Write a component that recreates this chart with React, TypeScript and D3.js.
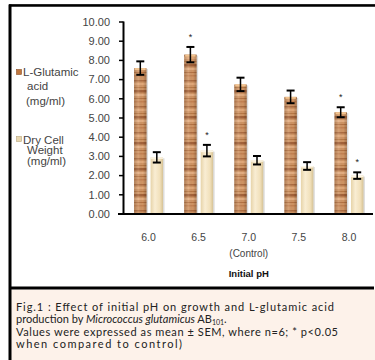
import React from 'react';
import * as d3 from 'd3';

// pH levels on the x axis
const categories = ['6.0', '6.5', '7.0', '7.5', '8.0'];
const subLabels = ['', '', '(Control)', '', ''];

// L-Glutamic acid (mg/ml), mean and SEM
const glutamic = [7.6, 8.3, 6.75, 6.1, 5.3];
const glutamicErr = [0.35, 0.4, 0.35, 0.33, 0.26];
const glutamicSig = [false, true, false, false, true];

// Dry cell weight (mg/ml), mean and SEM
const dryCell = [2.95, 3.3, 2.8, 2.5, 2.0];
const dryCellErr = [0.27, 0.3, 0.22, 0.2, 0.17];
const dryCellSig = [false, true, false, false, true];

const yTickValues = [0, 1, 2, 3, 4, 5, 6, 7, 8, 9, 10];
const seriesKeys = ['glu', 'dcw'];

const captionLines = [
  'Fig.1 : Effect of initial pH on growth and L-glutamic acid',
  'Values were expressed  as mean \u00b1 SEM, where n=6; * p<0.05',
  'when compared to control)',
];

const W = 375;
const H = 360;
const font = '"Liberation Sans", Arial, sans-serif';
const capFont = 'Lato, "Open Sans", sans-serif';

export default function App() {
  const x = d3.scaleBand().domain(categories).range([123.5, 374]).padding(0);
  const inner = d3.scaleBand().domain(seriesKeys).range([0, x.bandwidth()])
    .paddingInner(0.245).paddingOuter(0.64);
  const y = d3.scaleLinear().domain([0, 10]).range([214, 22]);
  const bw = inner.bandwidth();

  const series = [
    { key: 'glu', values: glutamic, err: glutamicErr, sig: glutamicSig, fill: 'url(#woodPat)' },
    { key: 'dcw', values: dryCell, err: dryCellErr, sig: dryCellSig, fill: 'url(#creamGrad)' },
  ];

  return (
    <svg width={W} height={H} style={{ position: 'absolute', left: 0, top: 0, background: '#fff' }}>
      <defs>
        <pattern id="woodPat" patternUnits="userSpaceOnUse" width="20" height="26">
          <rect width="20" height="26" fill="#d09463" />
          <rect y="2" width="20" height="1.5" fill="#ad6c40" />
          <rect y="5" width="20" height="2" fill="#e2a878" />
          <rect y="9" width="20" height="1" fill="#b87844" />
          <rect y="12" width="20" height="2.5" fill="#a46238" />
          <rect y="16" width="20" height="2" fill="#e4ad80" />
          <rect y="20" width="20" height="1" fill="#b47242" />
          <rect y="23" width="20" height="1.5" fill="#c48150" />
        </pattern>
        <linearGradient id="shadeGrad" x1="0" x2="1" y1="0" y2="0">
          <stop offset="0" stopColor="#000" stopOpacity="0.18" />
          <stop offset="0.35" stopColor="#fff" stopOpacity="0.12" />
          <stop offset="0.7" stopColor="#000" stopOpacity="0" />
          <stop offset="1" stopColor="#000" stopOpacity="0.22" />
        </linearGradient>
        <linearGradient id="creamGrad" x1="0" x2="1" y1="0" y2="0">
          <stop offset="0" stopColor="#e6d3a8" />
          <stop offset="0.35" stopColor="#f9edd3" />
          <stop offset="0.75" stopColor="#f1e0ba" />
          <stop offset="1" stopColor="#d6c294" />
        </linearGradient>
      </defs>

      {/* frame */}
      <line x1={9} x2={W} y1={4.5} y2={4.5} stroke="#999" strokeWidth={1} />
      <rect x={11} y={289.5} width={W - 11} height={H - 289.5} fill="#fdf2ea" />
      <line x1={9} x2={W} y1={5.5} y2={5.5} stroke="#000" strokeWidth={2.5} />
      <line x1={10} x2={10} y1={4.5} y2={H} stroke="#000" strokeWidth={3} />
      <line x1={9} x2={W - 1} y1={288} y2={288} stroke="#000" strokeWidth={3} />

      {/* y axis */}
      {yTickValues.map((t) => (
        <g key={t}>
          <line x1={119} x2={123.5} y1={y(t)} y2={y(t)} stroke="#000" strokeWidth={1.5} />
          <text x={110} y={y(t)} dy="0.35em" textAnchor="end" fontFamily={font} fontSize={11} fill="#444">
            {d3.format('.2f')(t)}
          </text>
        </g>
      ))}

      {/* bars */}
      {series.map((s) =>
        categories.map((c, i) => {
          const bx = (x(c) ?? 0) + (inner(s.key) ?? 0);
          const top = y(s.values[i]);
          const hi = y(s.values[i] + s.err[i]);
          const lo = y(s.values[i] - s.err[i]);
          const cx = bx + bw / 2;
          return (
            <g key={s.key + c}>
              <rect x={bx + 1.5} y={top + 1} width={bw} height={y(0) - top - 1} fill="#cfcfcf" opacity={0.7} />
              <rect x={bx} y={top} width={bw} height={y(0) - top} fill={s.fill} />
              {s.key === 'glu' && (
                <>
                  <rect x={bx} y={top} width={bw} height={y(0) - top} fill="url(#shadeGrad)" />
                  <rect x={bx + 1} y={top} width={bw - 2} height={2} fill="#f3c48f" />
                </>
              )}
              {s.key === 'dcw' && (
                <rect x={bx} y={top} width={bw} height={1.5} fill="#fdf6e6" />
              )}
              <line x1={cx} x2={cx} y1={hi} y2={lo} stroke="#000" strokeWidth={1.5} />
              <line x1={cx - 4} x2={cx + 4} y1={hi} y2={hi} stroke="#000" strokeWidth={2} />
              <line x1={cx - 4} x2={cx + 4} y1={lo} y2={lo} stroke="#000" strokeWidth={2} />
              {s.sig[i] && (
                <text x={cx} y={hi - 11} dy="0.45em" textAnchor="middle" fontFamily={font} fontSize={9} fill="#222">*</text>
              )}
            </g>
          );
        })
      )}

      {/* axes lines */}
      <line x1={123.5} x2={123.5} y1={y(10) - 0.5} y2={y(0)} stroke="#000" strokeWidth={2} />
      <line x1={118} x2={373} y1={y(0)} y2={y(0)} stroke="#000" strokeWidth={2} />

      {/* category labels */}
      {categories.map((c, i) => {
        const cx = (x(c) ?? 0) + x.bandwidth() / 2;
        return (
          <g key={c}>
            <text x={cx} y={237} dy="0.35em" textAnchor="middle" fontFamily={font} fontSize={10.5} fill="#444">{c}</text>
            {subLabels[i] && (
              <text x={cx} y={253} dy="0.35em" textAnchor="middle" fontFamily={font} fontSize={10} fill="#444">{subLabels[i]}</text>
            )}
          </g>
        );
      })}
      <text x={(123.5 + 374) / 2} y={274} dy="0.35em" textAnchor="middle" fontFamily={font} fontSize={9.5} fontWeight="bold" fill="#111">
        Initial pH
      </text>

      {/* legend */}
      <rect x={16.5} y={69.5} width={5} height={5} fill="#c0773f" stroke="#8a5028" strokeWidth={0.6} />
      <text fontFamily={font} fontSize={11.5} fill="#444">
        <tspan x={23} y={72} dy="0.35em">L-Glutamic</tspan>
        <tspan x={27} y={86} dy="0.35em">acid</tspan>
        <tspan x={26} y={100.5} dy="0.35em">(mg/ml)</tspan>
      </text>
      <rect x={16.5} y={136.5} width={5} height={5} fill="#e8d6ae" stroke="#b8a57c" strokeWidth={0.6} />
      <text fontFamily={font} fontSize={11.5} fill="#444">
        <tspan x={23} y={139.5} dy="0.35em">Dry Cell</tspan>
        <tspan x={27} y={150} dy="0.35em">Weight</tspan>
        <tspan x={27} y={160.5} dy="0.35em">(mg/ml)</tspan>
      </text>

      {/* caption */}
      <text x={16} y={311} fontFamily={capFont} fontSize={11} fill="#222" textLength={318}>{captionLines[0]}</text>
      <text x={16} y={323} fontFamily={capFont} fontSize={11} fill="#222">
        production by <tspan fontStyle="italic">Micrococcus glutamicus</tspan> AB
        <tspan fontSize={7} dy={1.5}>101</tspan><tspan dy={-1.5}>.</tspan>
      </text>
      <text x={16} y={335.5} fontFamily={capFont} fontSize={11} fill="#222" textLength={322}>{captionLines[1]}</text>
      <text x={16} y={347.5} fontFamily={capFont} fontSize={11} fill="#222" textLength={166}>{captionLines[2]}</text>
    </svg>
  );
}
